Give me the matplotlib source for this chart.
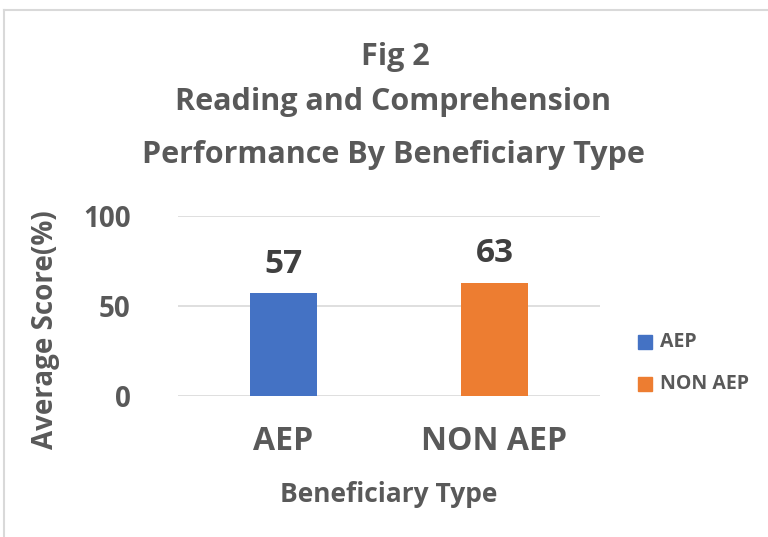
import matplotlib.pyplot as plt
from matplotlib.patches import Rectangle

# Data
categories = ['AEP', 'NON AEP']
scores = [57, 63]
colors = ['#4472C4', '#ED7D31']
yticks = [0, 50, 100]

txt = '#595959'
plt.rcParams['font.family'] = ['Open Sans', 'DejaVu Sans']
plt.rcParams['font.weight'] = 'bold'

fig = plt.figure(figsize=(7.68, 5.37), dpi=100)

# chart border (only top and left visible in the reference)
fig.add_artist(plt.Line2D([4 / 768, 1.0], [1 - 10 / 537, 1 - 10 / 537], color='#D9D9D9', lw=1.5))
fig.add_artist(plt.Line2D([4 / 768, 4 / 768], [0, 1 - 10 / 537], color='#D9D9D9', lw=1.5))

ax = fig.add_axes([178 / 768, 141 / 537, 422 / 768, 180 / 537])
x = range(len(categories))
bars = ax.bar(x, scores, width=0.32, color=colors, zorder=3)

for b, v in zip(bars, scores):
    ax.text(b.get_x() + b.get_width() / 2, v + 7, str(v), ha='center', va='bottom',
            fontsize=24, color='#404040', fontweight='bold')

ax.set_xlim(-0.5, 1.5)
ax.set_ylim(0, 100)
ax.set_yticks(yticks)
ax.set_xticks(list(x))
ax.set_xticklabels(categories)
ax.tick_params(axis='y', length=0, pad=34, labelsize=20, labelcolor=txt)
ax.tick_params(axis='x', length=0, pad=21, labelsize=23, labelcolor=txt)
ax.grid(axis='y', color='#D9D9D9', lw=1.2, zorder=0)
for s in ax.spines.values():
    s.set_visible(False)

fig.text(395 / 768, 1 - 57 / 537, 'Fig 2', ha='center', va='center', fontsize=22, color=txt, fontweight='bold')
fig.text(393 / 768, 1 - 102 / 537, 'Reading and Comprehension', ha='center', va='center', fontsize=22,
         color=txt, fontweight='bold')
fig.text(393 / 768, 1 - 155 / 537, 'Performance By Beneficiary Type', ha='center', va='center', fontsize=22,
         color=txt, fontweight='bold')

fig.text(46 / 768, 1 - 330 / 537, 'Average Score(%)', rotation=90, ha='center', va='center',
         fontsize=20, color=txt, fontweight='bold')
fig.text(389 / 768, 1 - 494 / 537, 'Beneficiary Type', ha='center', va='center',
         fontsize=19, color=txt, fontweight='bold')

# legend
for i, (lab, c) in enumerate(zip(categories, colors)):
    yc = 1 - (342 + 42 * i) / 537
    fig.add_artist(Rectangle((638 / 768, yc - 7 / 537), 14 / 768, 14 / 537, color=c))
    fig.text(660 / 768, yc, lab, ha='left', va='center', fontsize=14, color=txt, fontweight='bold')

fig.savefig('out.png', dpi=100)
